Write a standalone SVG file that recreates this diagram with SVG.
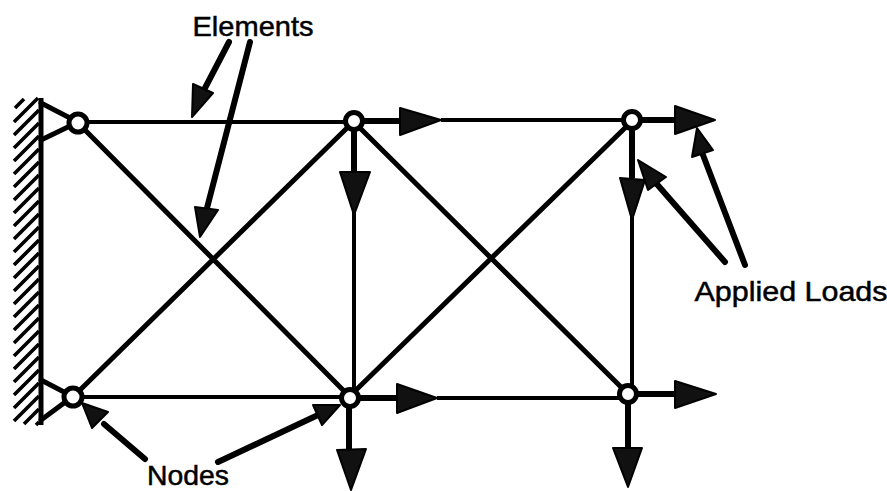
<svg xmlns="http://www.w3.org/2000/svg" width="887" height="491" viewBox="0 0 887 491">
<style>
.m{fill:none;stroke:#000;stroke-width:5;stroke-linecap:round}
.t{fill:none;stroke:#000;stroke-width:4}
.l{fill:none;stroke:#000;stroke-width:6;stroke-linecap:round}
.h{fill:#111;stroke:#000;stroke-width:2;stroke-linejoin:round}
.n{fill:#fff;stroke:#000;stroke-width:5}
.x{font-family:"Liberation Sans",Arial,sans-serif;font-size:28px;fill:#000;stroke:#000;stroke-width:.5;text-anchor:middle}
.w{fill:none;stroke:#000;stroke-width:3.6}
</style>
<rect width="887" height="491" fill="#fff"/>
<g id="wall">
<path class="w" style="stroke-width:5" d="M41 98V425"/>
<path class="w" d="M15 108L24 99M14 122L38 98M14 135L39 110M14 148L39 123M14 161L39 136M14 174L39 149M14 187L39 162M14 200L39 175M14 213L39 188M14 226L39 201M14 239L39 214M14 252L39 227M14 265L39 240M14 278L39 253M14 291L39 266M14 304L39 279M14 317L39 292M14 330L39 305M14 343L39 318M14 356L39 331M14 369L39 344M14 382L39 357M14 395L39 370M14 408L39 383M14 421L39 396M24 424L39 409M36 425L39 422"/>
</g>
<g id="connectors">
<path class="t" d="M87 122H345M81 397H340M441 120H623M437 398H619"/>
<path class="m" d="M41 103L70 118M41 140L70 126M41 380L64 392M41 420L64 403"/>
<path class="m" d="M85 130L343 390M80 390L347 128M360 128L622 388M356 390L626 127"/>
<path class="t" d="M354 212V388M632 216V385"/>
<path class="l" d="M229 42L205 88M250 42L207 208M725 262L655 182M745 265L703 155M104 424L145 459M218 462L318 415"/>
<path class="l" style="stroke-linecap:butt" d="M354 130V172M349 406V450M632 129V178M628 403V448M363 121H400M359 398H397M641 120H675M637 394H675"/>
</g>
<g id="arrowheads">
<path class="h" d="M192 117L193 84L213 93Z"/>
<path class="h" d="M200 237L195 207L218 210Z"/>
<path class="h" d="M400 108L441 120L400 135Z"/>
<path class="h" d="M340 172L370 172L354 215Z"/>
<path class="h" d="M675 106L715 120L675 134Z"/>
<path class="h" d="M620 178L645 180L632 220Z"/>
<path class="h" d="M638 160L666 177L648 190Z"/>
<path class="h" d="M697 128L713 150L692 157Z"/>
<path class="h" d="M397 384L437 398L397 413Z"/>
<path class="h" d="M337 450L366 449L351 490Z"/>
<path class="h" d="M675 381L716 394L675 408Z"/>
<path class="h" d="M613 448L642 448L628 487Z"/>
<path class="h" d="M82 403L108 412L92 428Z"/>
<path class="h" d="M340 405L313 405L322 425Z"/>
</g>
<g id="node1"><circle class="n" cx="78" cy="123" r="9"/></g>
<g id="node2"><circle class="n" cx="354" cy="121" r="8.5"/></g>
<g id="node3"><circle class="n" cx="632" cy="120" r="8.5"/></g>
<g id="node4"><circle class="n" cx="73" cy="397" r="9"/></g>
<g id="node5"><circle class="n" cx="350" cy="398" r="8.5"/></g>
<g id="node6"><circle class="n" cx="628" cy="394" r="8.5"/></g>
<g id="labels">
<text class="x" x="253" y="36" textLength="121" lengthAdjust="spacingAndGlyphs">Elements</text>
<text class="x" x="791" y="301" textLength="193" lengthAdjust="spacingAndGlyphs">Applied Loads</text>
<text class="x" x="188" y="485" textLength="82" lengthAdjust="spacingAndGlyphs">Nodes</text>
</g>
</svg>
